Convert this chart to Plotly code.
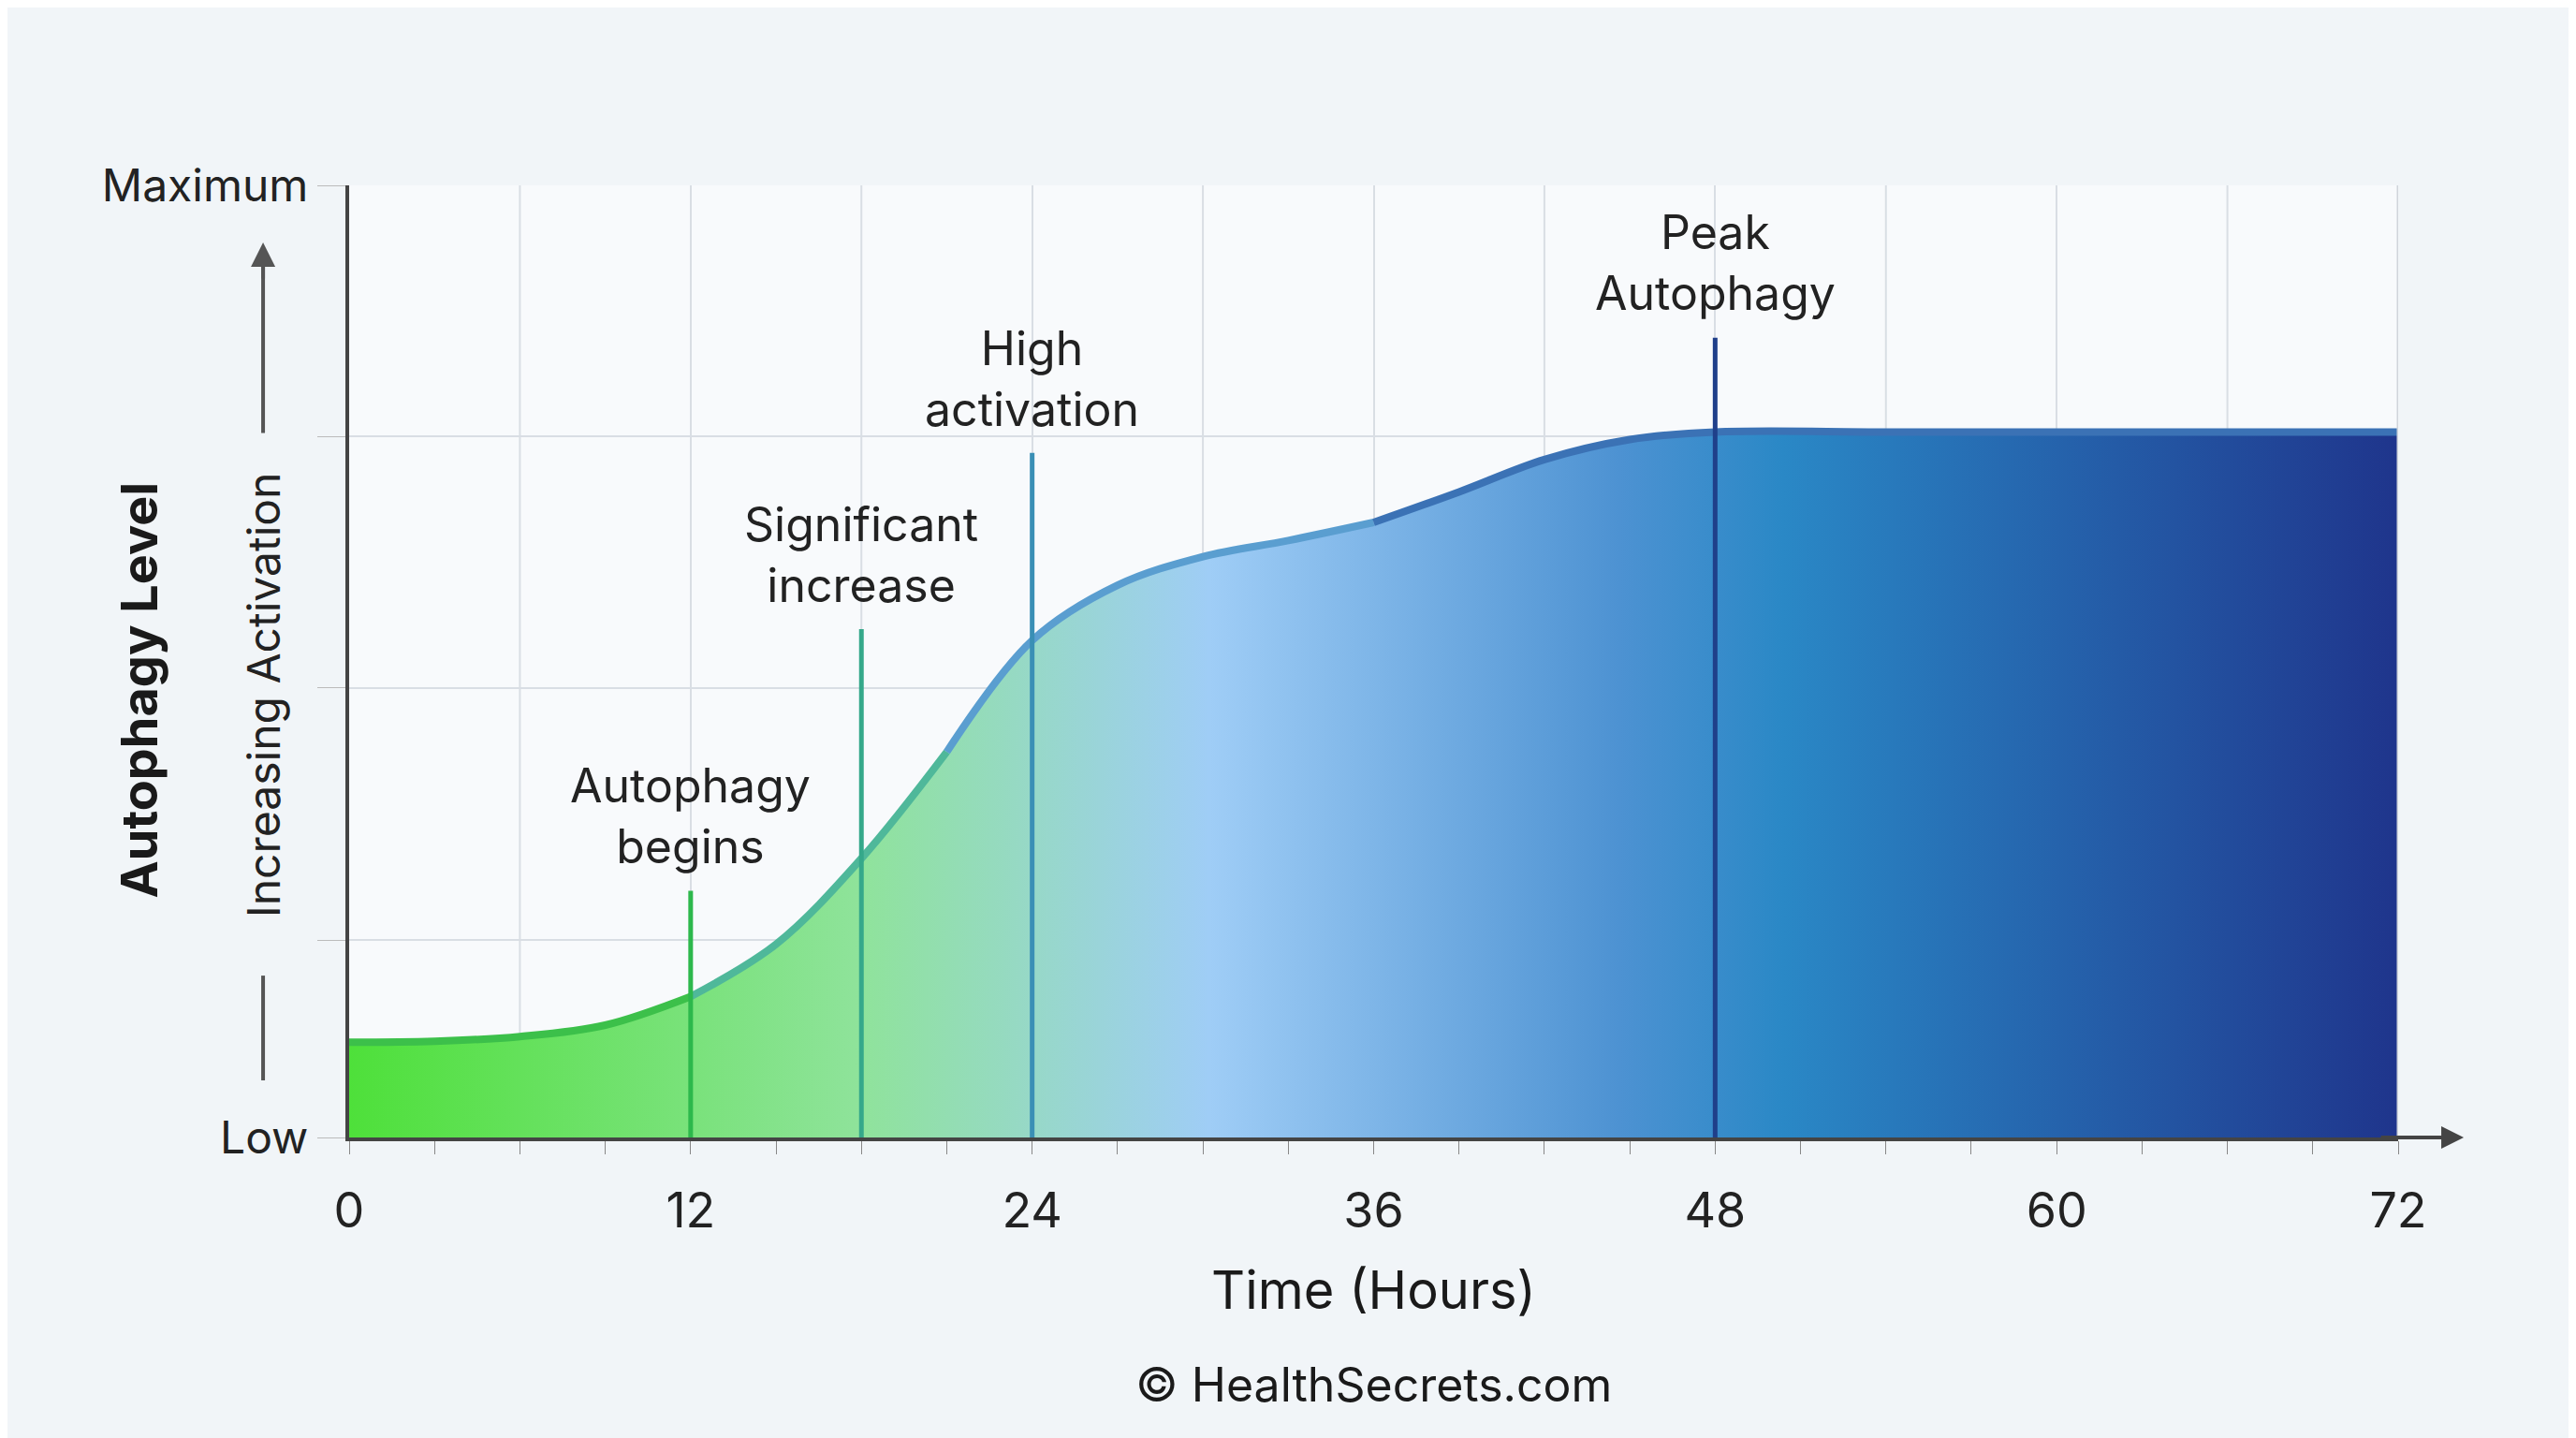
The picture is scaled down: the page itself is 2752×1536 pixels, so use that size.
import plotly.graph_objects as go

# data
hours = [0, 3, 6, 9, 12, 15, 18, 21, 24, 27, 30, 33, 36, 39, 42, 45, 48, 54, 60, 66, 72]
level = [10.0, 10.1, 10.6, 11.8, 14.8, 20.3, 29.3, 40.5, 52.2, 58.0, 61.0, 62.7, 64.6,
         67.8, 71.2, 73.3, 74.1, 74.1, 74.1, 74.1, 74.1]

marker_hours = [12, 18, 24, 48]
marker_tops = [25.9, 53.4, 71.9, 84.0]
marker_labels = ["Autophagy<br>begins", "Significant<br>increase", "High<br>activation", "Peak<br>Autophagy"]
marker_colors = ["#2db84c", "#35a88a", "#3a8fb5", "#1f3f8a"]

# line pieces, coloured from green to blue
line_chunks = [(0, 5, "#3cc04a"), (4, 8, "#4fb89a"), (7, 13, "#5a9ed0"), (12, 21, "#3b72b5")]

fig = go.Figure()

fig.add_trace(go.Scatter(
    x=hours, y=level, mode="lines", line=dict(width=0, shape="spline"),
    fill="tozeroy",
    fillgradient=dict(type="horizontal", colorscale=[
        [0.0, "#4ee03a"], [0.25, "#8fe39b"], [0.42, "#9fcdf6"],
        [0.62, "#4d92d2"], [0.7, "#2a88c6"], [1.0, "#1f358c"]]),
    showlegend=False, hoverinfo="skip"))

for a, b, c in line_chunks:
    fig.add_trace(go.Scatter(x=hours[a:b], y=level[a:b], mode="lines",
                             line=dict(color=c, width=8, shape="spline"),
                             showlegend=False, hoverinfo="skip"))

for h, top, lab, c in zip(marker_hours, marker_tops, marker_labels, marker_colors):
    fig.add_shape(type="line", x0=h, x1=h, y0=0, y1=top, line=dict(color=c, width=5))
    fig.add_annotation(x=h, y=top + 1.5, text=lab, showarrow=False, yanchor="bottom",
                       font=dict(size=50, color="#222222"))

# y-axis helper arrow + labels
fig.add_shape(type="line", xref="paper", yref="y", x0=-0.042, x1=-0.042, y0=6, y1=17,
              line=dict(color="#555555", width=4))
fig.add_shape(type="line", xref="paper", yref="y", x0=-0.042, x1=-0.042, y0=74, y1=92,
              line=dict(color="#555555", width=4))
fig.add_annotation(xref="paper", yref="y", x=-0.042, y=94, ax=0, ay=40, showarrow=True,
                   arrowhead=2, arrowsize=1.3, arrowwidth=4, arrowcolor="#555555", text="")
fig.add_annotation(xref="paper", yref="y", x=-0.042, y=46.5, text="Increasing Activation",
                   textangle=-90, showarrow=False, xanchor="center",
                   font=dict(size=48, color="#222222"))
fig.add_annotation(xref="paper", yref="y", x=-0.103, y=47, text="<b>Autophagy Level</b>",
                   textangle=-90, showarrow=False, xanchor="center",
                   font=dict(size=54, color="#1a1a1a"))

# x-axis arrow
fig.add_annotation(xref="paper", yref="y", x=1.032, y=0, ax=-90, ay=0, showarrow=True,
                   arrowhead=2, arrowsize=1.2, arrowwidth=4, arrowcolor="#444444", text="")
fig.add_annotation(xref="paper", yref="paper", x=0.5, y=-0.16, text="Time (Hours)",
                   showarrow=False, yanchor="middle", font=dict(size=56, color="#1a1a1a"))
fig.add_annotation(xref="paper", yref="paper", x=0.5, y=-0.26, text="© HealthSecrets.com",
                   showarrow=False, yanchor="middle", font=dict(size=50, color="#1a1a1a"))

fig.update_xaxes(range=[0, 72], tickvals=[0, 12, 24, 36, 48, 60, 72],
                 showgrid=True, gridcolor="#d9dee4", gridwidth=2,
                 minor=dict(dtick=3, ticks="outside", ticklen=14, tickcolor="#888888",
                            showgrid=False),
                 showline=True, linecolor="#444444", linewidth=4,
                 ticklabelstandoff=30,
                 tickfont=dict(size=52, color="#222222"), ticks="", zeroline=False)
# extra vertical grid lines every 6 h
for g in range(6, 72, 12):
    fig.add_vline(x=g, line=dict(color="#d9dee4", width=2), layer="below")

fig.update_yaxes(range=[0, 100], tickvals=[0, 20.7, 47.2, 73.6, 100],
                 ticktext=["Low", "", "", "", "Maximum"],
                 showgrid=True, gridcolor="#d9dee4", gridwidth=2,
                 ticks="outside", ticklen=30, tickcolor="#bbbbbb",
                 showline=True, linecolor="#444444", linewidth=4,
                 tickfont=dict(size=48, color="#222222"), zeroline=False)

fig.add_shape(type="line", xref="x", yref="paper", x0=72, x1=72, y0=0, y1=1,
              line=dict(color="#d0d5db", width=3))

fig.update_layout(width=2752, height=1536,
                  margin=dict(l=365, r=198, t=190, b=329),
                  paper_bgcolor="#f1f5f8", plot_bgcolor="#f8fafc",
                  font=dict(family="Inter, Roboto, sans-serif"))

fig.write_html("out.html")
